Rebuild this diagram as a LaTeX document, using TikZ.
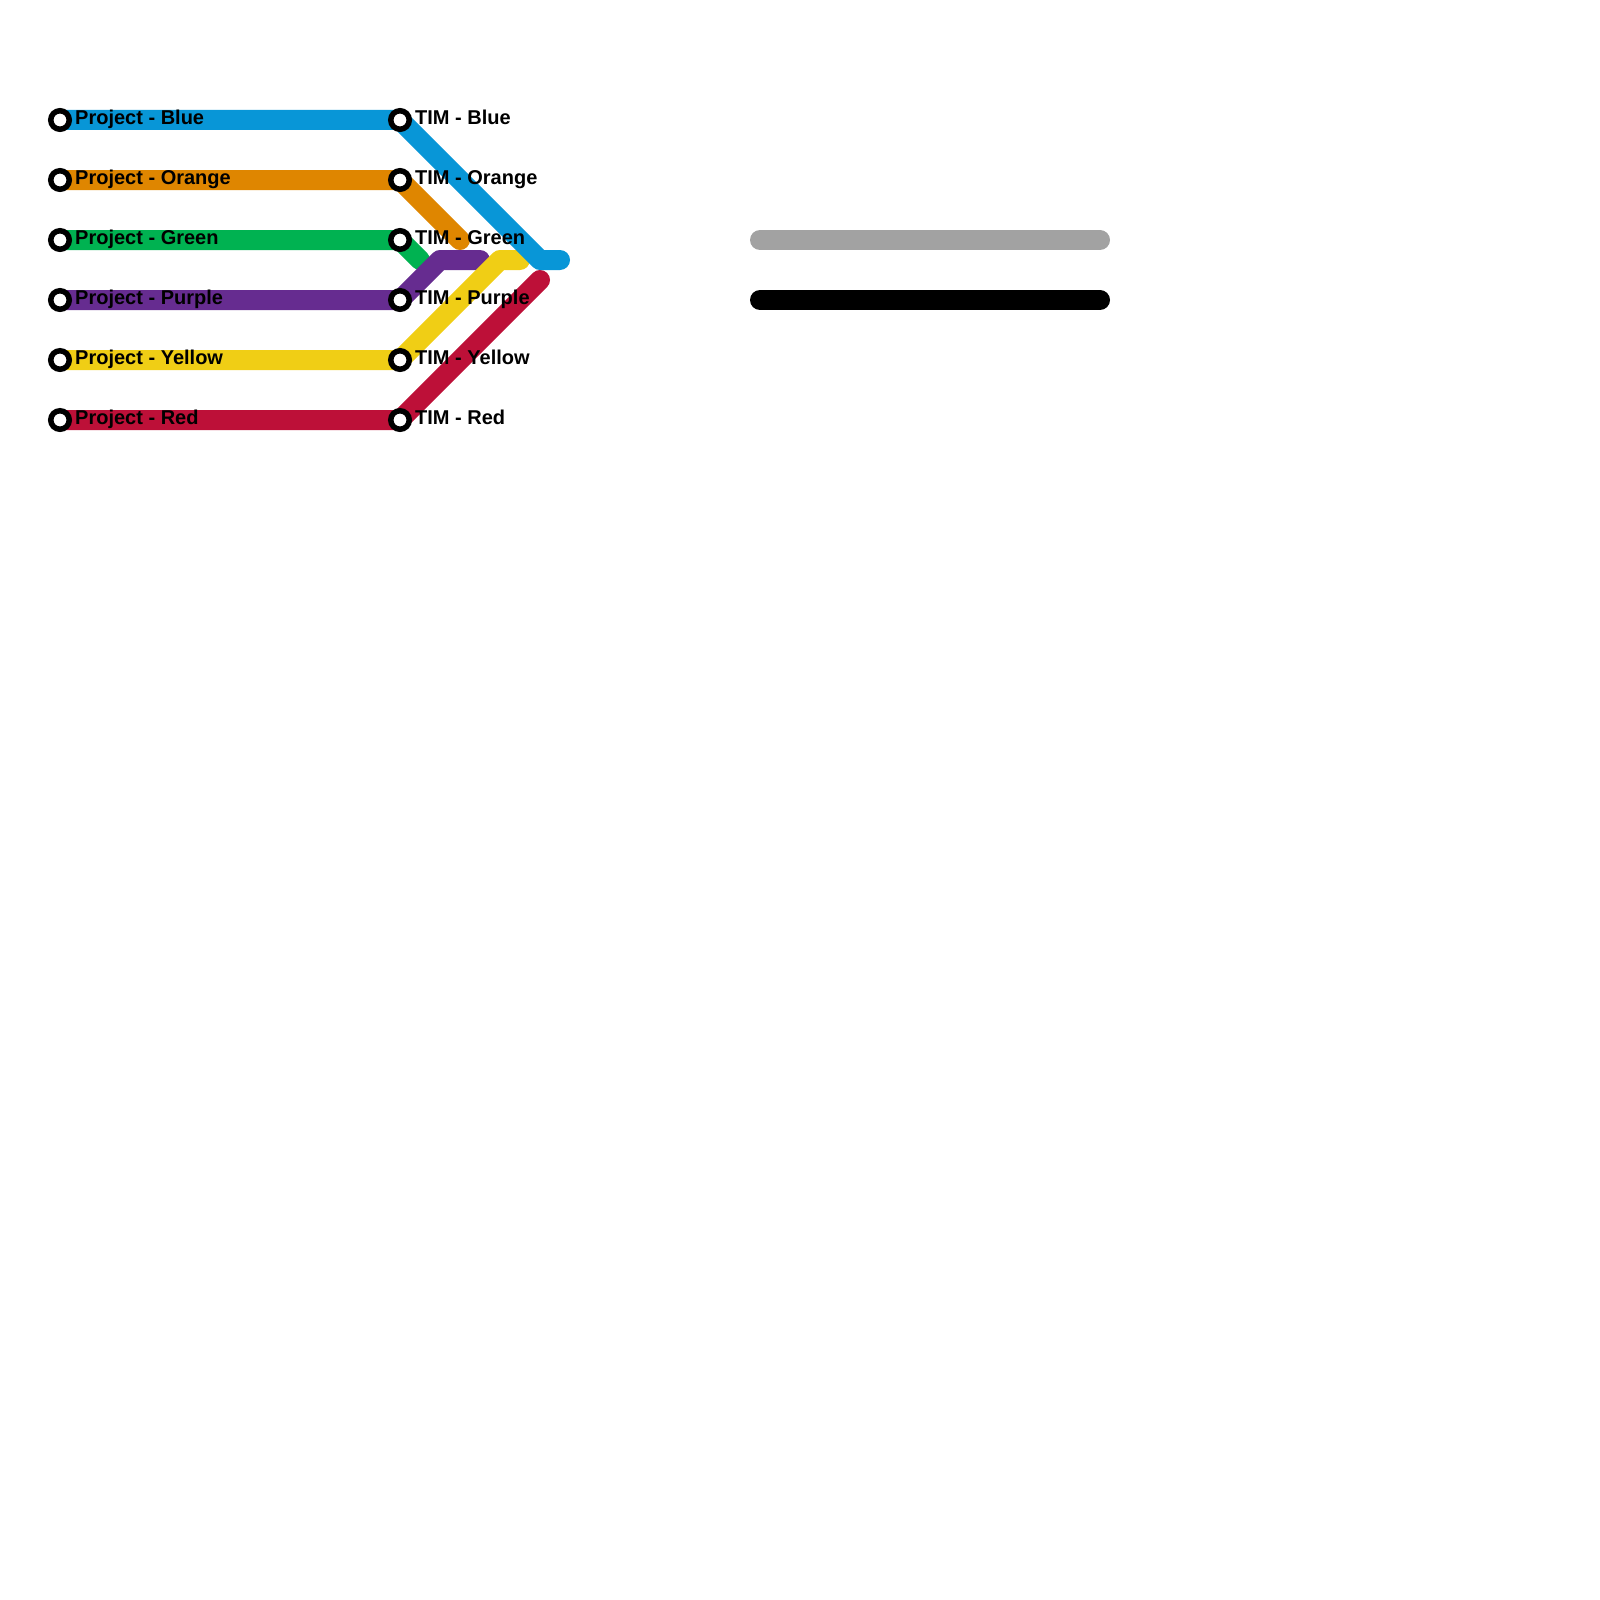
\documentclass[tikz,border=0pt]{standalone}
\usepackage{fontspec}
\setmainfont{Liberation Sans}
\usetikzlibrary{backgrounds}
\definecolor{lblue}{HTML}{0896D7}
\definecolor{lorange}{HTML}{DF8600}
\definecolor{lgreen}{HTML}{00B251}
\definecolor{lpurple}{HTML}{662C90}
\definecolor{lyellow}{HTML}{F0CE15}
\definecolor{lred}{HTML}{BD1038}
\definecolor{lgray}{HTML}{A2A2A2}
\tikzset{
  x=1pt,y=-1pt,
  metro/.style={line width=20pt,line cap=round,line join=round},
  station/.style={circle,draw=black,fill=white,line width=5.5pt,inner sep=0pt,minimum size=18.5pt},
  stationlabel/.style={anchor=base west,inner sep=0pt,font=\fontsize{20pt}{24pt}\selectfont\bfseries,text=black}
}
\begin{document}
\begin{tikzpicture}
\useasboundingbox (0,0) rectangle (1600,1600);
% stations
\foreach \n/\y in {blue/120,orange/180,green/240,purple/300,yellow/360,red/420}{
  \node[station] (p\n) at (60,\y) {};
  \node[station] (t\n) at (400,\y) {};
}
% bends and free ends
\coordinate (bluebend) at (540,260);
\coordinate (blueend) at (560,260);
\coordinate (orangeend) at (460,240);
\coordinate (greenend) at (420,260);
\coordinate (purplebend) at (440,260);
\coordinate (purpleend) at (480,260);
\coordinate (yellowbend) at (500,260);
\coordinate (yellowend) at (520,260);
\coordinate (redend) at (540,280);
\coordinate (grayl) at (760,240);
\coordinate (grayr) at (1100,240);
\coordinate (blackl) at (760,300);
\coordinate (blackr) at (1100,300);
\begin{pgfonlayer}{background}
\draw[metro,lred] (pred.center) -- (tred.center) -- (redend);
\draw[metro,lgreen] (pgreen.center) -- (tgreen.center) -- (greenend);
\draw[metro,lorange] (porange.center) -- (torange.center) -- (orangeend);
\draw[metro,lpurple] (ppurple.center) -- (tpurple.center) -- (purplebend) -- (purpleend);
\draw[metro,lyellow] (pyellow.center) -- (tyellow.center) -- (yellowbend) -- (yellowend);
\draw[metro,lblue] (pblue.center) -- (tblue.center) -- (bluebend) -- (blueend);
\draw[metro,lgray] (grayl) -- (grayr);
\draw[metro,black] (blackl) -- (blackr);
\end{pgfonlayer}
% labels
\node[stationlabel] (lp1) at (75,124.8) {Project - Blue};
\node[stationlabel] (lp2) at (75,184.8) {Project - Orange};
\node[stationlabel] (lp3) at (75,244.8) {Project - Green};
\node[stationlabel] (lp4) at (75,304.8) {Project - Purple};
\node[stationlabel] (lp5) at (75,364.8) {Project - Yellow};
\node[stationlabel] (lp6) at (75,424.8) {Project - Red};
\node[stationlabel] (lt1) at (415,124.8) {TIM - Blue};
\node[stationlabel] (lt2) at (415,184.8) {TIM - Orange};
\node[stationlabel] (lt3) at (415,244.8) {TIM - Green};
\node[stationlabel] (lt4) at (415,304.8) {TIM - Purple};
\node[stationlabel] (lt5) at (415,364.8) {TIM - Yellow};
\node[stationlabel] (lt6) at (415,424.8) {TIM - Red};
\end{tikzpicture}
\end{document}
